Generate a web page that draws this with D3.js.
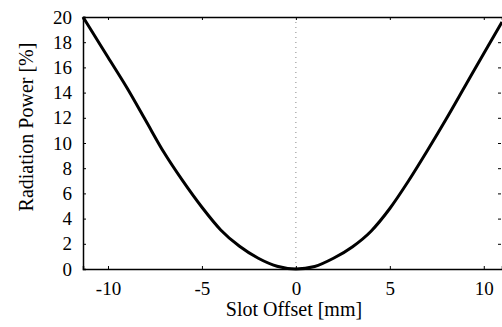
<!DOCTYPE html>
<html>
<head>
<meta charset="utf-8">
<script src="https://cdn.jsdelivr.net/npm/d3@7"></script>
<style>
  body { margin: 0; background: #fff; }
  svg { display: block; }
  text { font-family: "Liberation Serif", "Times New Roman", serif; fill: #000; }
</style>
</head>
<body>
<div id="chart"></div>
<script>
// values
var slotOffset = [-11.33, -11, -10, -9, -8, -7, -6, -5, -4, -3, -2, -1, 0, 1, 2, 3, 4, 5, 6, 7, 8, 9, 10, 10.97];
var radiationPower = [20, 19.2, 16.8, 14.4, 11.8, 9.2, 6.95, 4.9, 3.1, 1.8, 0.85, 0.22, 0, 0.2, 0.85, 1.75, 3.0, 4.8, 7.0, 9.4, 11.9, 14.5, 17.1, 19.6];
var xTicks = [-10, -5, 0, 5, 10];
var yTicks = [0, 2, 4, 6, 8, 10, 12, 14, 16, 18, 20];

var W = 502, H = 327;
var margin = {left: 83, top: 17, right: 0, bottom: 58};

var svg = d3.select("#chart").append("svg")
    .attr("width", W)
    .attr("height", H);

var x = d3.scaleLinear().domain([-11.33, 10.97]).range([margin.left, W - margin.right]);
var y = d3.scaleLinear().domain([0, 20]).range([H - margin.bottom, margin.top]);

// dotted line at zero offset
svg.append("line")
    .attr("x1", x(0)).attr("x2", x(0))
    .attr("y1", y(20)).attr("y2", y(0))
    .attr("stroke", "#888")
    .attr("stroke-width", 1)
    .attr("stroke-dasharray", "1,4");

// axes, ticks pointing inward
var gBottom = svg.append("g")
    .attr("transform", "translate(0," + y(0) + ")")
    .call(d3.axisBottom(x).tickValues(xTicks).tickSize(-3).tickPadding(13));
var gTop = svg.append("g")
    .attr("transform", "translate(0," + y(20) + ")")
    .call(d3.axisTop(x).tickValues(xTicks).tickSize(-3).tickFormat(""));
var gLeft = svg.append("g")
    .attr("transform", "translate(" + x.range()[0] + ",0)")
    .call(d3.axisLeft(y).tickValues(yTicks).tickSize(-3).tickPadding(11));
var gRight = svg.append("g")
    .attr("transform", "translate(" + (x.range()[1] - 1) + ",0)")
    .call(d3.axisRight(y).tickValues(yTicks).tickSize(-3).tickFormat(""));

[gBottom, gTop, gLeft, gRight].forEach(function(g){
    g.select(".domain").attr("stroke", "#000").attr("stroke-width", 1.5);
    g.selectAll(".tick line").attr("stroke", "#000").attr("stroke-width", 1);
    g.selectAll("text").style("font-family", '"Liberation Serif", serif').style("font-size", "19px");
});
gRight.select(".domain").attr("stroke", "none");
gBottom.selectAll(".tick text").text(function(d){ return d < 0 ? "-" + Math.abs(d) : d; });

// axis titles
svg.append("text")
    .attr("x", 294)
    .attr("y", 316)
    .attr("text-anchor", "middle")
    .style("font-size", "20px")
    .text("Slot Offset [mm]");

svg.append("text")
    .attr("transform", "translate(33,127) rotate(-90)")
    .attr("text-anchor", "middle")
    .style("font-size", "20px")
    .text("Radiation Power [%]");

// curve
var pts = slotOffset.map(function(d, i){ return [d, radiationPower[i]]; });
svg.append("path")
    .datum(pts)
    .attr("fill", "none")
    .attr("stroke", "#000")
    .attr("stroke-width", 3)
    .attr("stroke-linejoin", "round")
    .attr("d", d3.line()
        .x(function(d){ return x(d[0]); })
        .y(function(d){ return y(d[1]); })
        .curve(d3.curveMonotoneX));
</script>
</body>
</html>
